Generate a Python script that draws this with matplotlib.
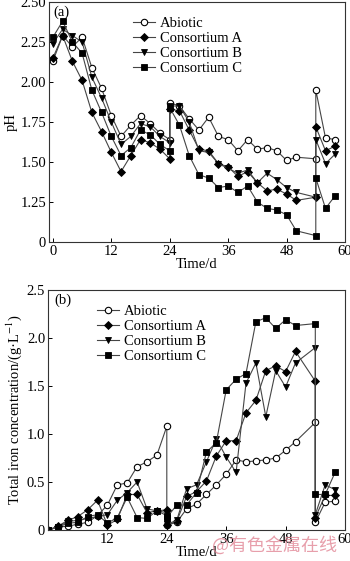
import matplotlib
matplotlib.use("Agg")
import matplotlib.pyplot as plt

plt.rcParams['font.family'] = ['Liberation Serif', 'DejaVu Serif']
plt.rcParams['mathtext.fontset'] = 'stix'

time = [0, 2, 4, 6, 8, 10, 12, 14, 16, 18, 20, 22, 24, 24, 26, 28, 30, 32, 34, 36,
        38, 40, 42, 44, 46, 48, 50, 54, 54, 56, 58]

series_names = ["Abiotic", "Consortium A", "Consortium B", "Consortium C"]

ph_abiotic = [2.13, 2.29, 2.22, 2.28, 2.09, 1.96, 1.79, 1.66, 1.73, 1.79, 1.74, 1.68, 1.64, 1.87,
              1.85, 1.77, 1.70, 1.78, 1.66, 1.64, 1.57, 1.64, 1.58, 1.59, 1.57, 1.51, 1.53, 1.52,
              1.95, 1.65, 1.64]
ph_a = [2.15, 2.29, 2.13, 2.01, 1.81, 1.69, 1.56, 1.44, 1.54, 1.64, 1.62, 1.58, 1.52, 1.83,
        1.82, 1.70, 1.58, 1.57, 1.49, 1.47, 1.41, 1.44, 1.37, 1.32, 1.33, 1.30, 1.26, 1.28,
        1.72, 1.57, 1.60]
ph_b = [2.24, 2.33, 2.29, 2.25, 2.03, 1.90, 1.75, 1.61, 1.66, 1.74, 1.72, 1.66, 1.62, 1.85,
        1.85, 1.75, 1.57, 1.56, 1.49, 1.46, 1.43, 1.45, 1.37, 1.43, 1.39, 1.34, 1.31, 1.28,
        1.64, 1.49, 1.55]
ph_c = [2.28, 2.38, 2.25, 2.18, 1.95, 1.81, 1.66, 1.54, 1.59, 1.70, 1.67, 1.61, 1.57, 1.84,
        1.73, 1.54, 1.42, 1.40, 1.34, 1.35, 1.31, 1.35, 1.25, 1.21, 1.20, 1.17, 1.07, 1.04,
        1.40, 1.21, 1.29]

fe_abiotic = [0, 0.03, 0.04, 0.06, 0.08, 0.15, 0.26, 0.47, 0.49, 0.66, 0.71, 0.78, 1.08, 0.05,
              0.08, 0.22, 0.27, 0.37, 0.47, 0.58, 0.73, 0.71, 0.72, 0.73, 0.75, 0.83, 0.92, 1.12,
              0.08, 0.29, 0.30]
fe_a = [0, 0.04, 0.10, 0.14, 0.21, 0.31, 0.05, 0.11, 0.37, 0.37, 0.18, 0.20, 0.21, 0.05,
        0.09, 0.35, 0.40, 0.51, 0.77, 0.93, 0.93, 1.22, 1.35, 1.66, 1.71, 1.65, 1.86, 1.55,
        0.13, 0.36, 0.36]
fe_b = [0, 0.03, 0.09, 0.10, 0.12, 0.14, 0.16, 0.31, 0.39, 0.50, 0.22, 0.20, 0.18, 0.06,
        0.10, 0.43, 0.47, 0.71, 0.95, 0.76, 0.60, 1.53, 1.74, 1.18, 1.66, 1.49, 1.74, 1.90,
        0.16, 0.47, 0.42]
fe_c = [0, 0.03, 0.07, 0.08, 0.14, 0.16, 0.07, 0.13, 0.34, 0.13, 0.12, 0.20, 0.15, 0.13,
        0.26, 0.26, 0.39, 0.81, 0.91, 1.46, 1.57, 1.63, 2.17, 2.21, 2.10, 2.19, 2.13, 2.15,
        0.37, 0.37, 0.60]

ph_ticks = [1.0, 1.25, 1.5, 1.75, 2.0, 2.25, 2.5]
ph_ticklabels = ["0", "1.25", "1.50", "1.75", "2.00", "2.25", "2.50"]
x_ticks_a = [0, 12, 24, 36, 48, 60]
x_ticks_b = [12, 24, 36, 48, 60]
fe_ticks = [0, 0.5, 1.0, 1.5, 2.0, 2.5]
fe_ticklabels = ["0", "0.5", "1.0", "1.5", "2.0", "2.5"]

styles = [
    dict(marker='o', mfc='white', mec='black', ms=4.6, mew=0.8),
    dict(marker='D', mfc='black', mec='black', ms=3.6, mew=0.6),
    dict(marker='v', mfc='black', mec='black', ms=4.6, mew=0.6),
    dict(marker='s', mfc='black', mec='black', ms=4.0, mew=0.6),
]
line_color = '#454545'
fs = 10.5

fig = plt.figure(figsize=(3.5, 5.61), dpi=100)
W, H = 350, 561

def ax_rect(l, t, r, b):
    return [l / W, 1 - b / H, (r - l) / W, (b - t) / H]

ax1 = fig.add_axes(ax_rect(49, 2, 345, 242))
ax2 = fig.add_axes(ax_rect(48, 290, 345, 530))

for name, ys, st in zip(series_names, [ph_abiotic, ph_a, ph_b, ph_c], styles):
    ax1.plot(time, ys, color=line_color, lw=0.8, label=name, **st)
for name, ys, st in zip(series_names, [fe_abiotic, fe_a, fe_b, fe_c], styles):
    ax2.plot(time, ys, color=line_color, lw=0.8, label=name, **st)

ax1.set_xlim(-0.8, 60)
ax1.set_ylim(1.0, 2.5)
ax1.set_xticks(x_ticks_a)
ax1.set_yticks(ph_ticks)
ax1.set_yticklabels(ph_ticklabels)
ax1.set_xlabel("Time/d", fontsize=fs, labelpad=0)
ax1.set_ylabel("pH", fontsize=fs, labelpad=2)
ax1.text(0.015, 0.985, "(a)", transform=ax1.transAxes, fontsize=fs, va='top', ha='left')

ax2.set_xlim(0, 60)
ax2.set_ylim(0, 2.5)
ax2.set_xticks(x_ticks_b)
ax2.set_yticks(fe_ticks)
ax2.set_yticklabels(fe_ticklabels)
ax2.set_xlabel("Time/d", fontsize=fs, labelpad=0)
ax2.set_ylabel("Total iron concentration/(g·L$^{-1}$)", fontsize=fs, labelpad=2)
ax2.text(0.02, 0.985, "(b)", transform=ax2.transAxes, fontsize=fs, va='top', ha='left')

for ax in (ax1, ax2):
    ax.tick_params(direction='in', length=3, width=0.7, labelsize=fs, pad=2)
    for sp in ax.spines.values():
        sp.set_linewidth(0.8)
        sp.set_color('#333333')

leg_kw = dict(fontsize=fs, frameon=False, handlelength=1.5, handletextpad=0.35,
              labelspacing=0.12, borderaxespad=0.2)
ax1.legend(loc='upper left', bbox_to_anchor=(0.255, 0.975), **leg_kw)
ax2.legend(loc='upper left', bbox_to_anchor=(0.135, 0.975), **leg_kw)

fig.text(212 / W, 1 - 545 / H, "@有色金属在线", color='#e07f8f', alpha=0.75, fontsize=13,
         family=['Noto Sans CJK SC', 'DejaVu Sans'], va='center', ha='left')

fig.savefig("out.png", dpi=100)
